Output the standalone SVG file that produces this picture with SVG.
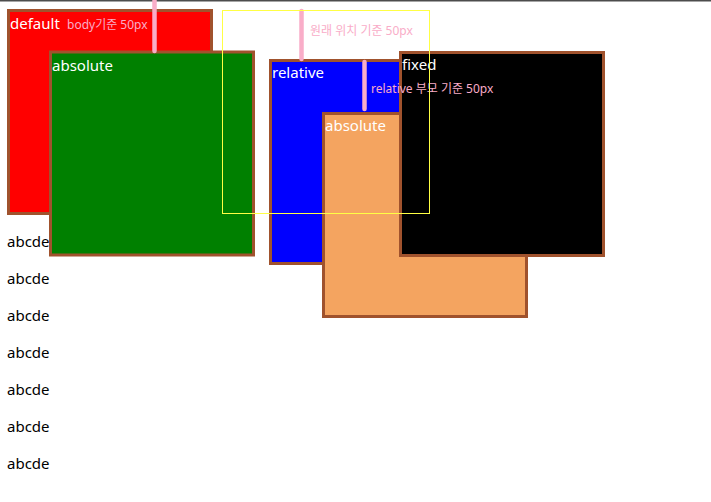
<svg xmlns="http://www.w3.org/2000/svg" width="711" height="502" viewBox="0 0 711 502">
<style>
.box{stroke:#a0522d;stroke-width:3}
.lbl{font-family:"Noto Sans","Noto Sans CJK KR",sans-serif;font-size:15px;fill:#ffffff}
.note{font-family:"Noto Sans","Noto Sans CJK KR",sans-serif;font-size:12px;fill:#f9adc8}
.txt{font-family:"Noto Sans","Noto Sans CJK KR",sans-serif;font-size:15px;fill:#000000}
.pin{stroke:#f9adc8;stroke-width:4.5;stroke-linecap:round}
</style>
<rect x="0" y="0" width="711" height="502" fill="#ffffff"/>
<rect x="0" y="0" width="711" height="1.5" fill="#4d4d4d"/>
<g id="abcde">
<text class="txt" x="7" y="247">abcde</text>
<text class="txt" x="7" y="284">abcde</text>
<text class="txt" x="7" y="321">abcde</text>
<text class="txt" x="7" y="358">abcde</text>
<text class="txt" x="7" y="395">abcde</text>
<text class="txt" x="7" y="432">abcde</text>
<text class="txt" x="7" y="469">abcde</text>
</g>
<g id="default"><rect class="box" x="8.5" y="10.5" width="203" height="203" fill="#ff0000"/></g>
<g id="absolute1"><rect class="box" x="50.5" y="52" width="203" height="203" fill="#008000"/></g>
<g id="relative"><rect class="box" x="270.5" y="60.5" width="203" height="203" fill="#0000ff"/></g>
<g id="absolute2"><rect class="box" x="323.5" y="113.5" width="203" height="203" fill="#f4a460"/></g>
<g id="fixed"><rect class="box" x="400.5" y="52.5" width="203" height="203" fill="#000000"/></g>
<g id="connectors">
<line class="pin" x1="154.5" y1="0" x2="154.5" y2="51"/>
<line class="pin" x1="301.5" y1="11" x2="301.5" y2="59"/>
<line class="pin" x1="364.5" y1="62" x2="364.5" y2="109"/>
</g>
<g id="labels">
<text class="lbl" x="10" y="29">default</text>
<text class="note" x="67" y="29">body기준 50px</text>
<text class="lbl" x="52" y="71">absolute</text>
<text class="lbl" x="272" y="78">relative</text>
<text class="lbl" x="325" y="131">absolute</text>
<text class="lbl" x="402" y="70">fixed</text>
<text class="note" x="371" y="93">relative 부모 기준 50px</text>
<text class="note" x="310" y="35">원래 위치 기준 50px</text>
</g>
<g id="original-position"><rect x="222.5" y="10.5" width="207" height="203" fill="none" stroke="#ffff44" stroke-width="1"/></g>
</svg>
